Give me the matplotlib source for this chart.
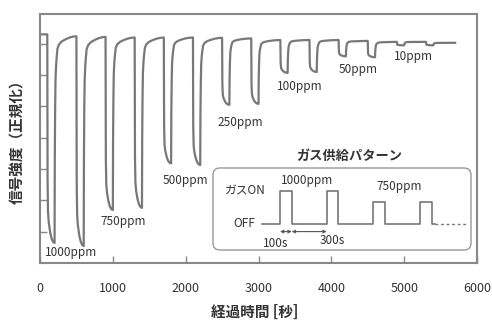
import matplotlib
matplotlib.use('Agg')
import matplotlib.pyplot as plt
from matplotlib.patches import FancyBboxPatch

plt.rcParams['font.family'] = ['Noto Sans CJK JP', 'DejaVu Sans']

# gas pulses: ON at these times for 100 s, then 300 s off
pulse_on = [100, 500, 900, 1300, 1700, 2100, 2500, 2900, 3300, 3700, 4100, 4500, 4900, 5300]
ppm = [1000, 1000, 750, 750, 500, 500, 250, 250, 100, 100, 50, 50, 10, 10]
# signal level just before each pulse (last one = end of run)
top_level = [0.730, 0.724, 0.722, 0.720, 0.720, 0.720, 0.719, 0.717,
             0.712, 0.712, 0.712, 0.709, 0.706, 0.706, 0.703]
# lowest signal reached in each pulse
bottom_level = [0.064, 0.054, 0.169, 0.176, 0.318, 0.313, 0.505, 0.508,
                0.607, 0.610, 0.660, 0.657, 0.695, 0.695]

# response shape (fraction of the dip vs time since ON)
drop_dt = [0, 4, 10, 20, 40, 60, 80, 100]
drop_frac = [0.0, 0.70, 0.85, 0.90, 0.95, 0.98, 0.995, 1.0]
rise_dt = [103, 108, 113, 120, 127, 140, 160, 200, 250, 300, 350, 400]
rise_frac = [0.60, 0.35, 0.21, 0.15, 0.11, 0.06, 0.04, 0.025, 0.015, 0.007, 0.002, 0.0]

labels = ['1000ppm', '750ppm', '500ppm', '250ppm', '100ppm', '50ppm', '10ppm']
label_xy = [(433, 0.035), (1140, 0.131), (1992, 0.262), (2747, 0.447),
            (3571, 0.562), (4368, 0.617), (5130, 0.658)]

# inset: gas supply pattern
inset_on = [0, 400, 800, 1200]
inset_level = [1.0, 1.0, 0.676, 0.676]

t = [0]
y = [top_level[0]]
for k, t0 in enumerate(pulse_on):
    top, bot, nxt = top_level[k], bottom_level[k], top_level[k + 1]
    for dt, f in zip(drop_dt, drop_frac):
        t.append(t0 + dt)
        y.append(top - (top - bot) * f)
    for dt, f in zip(rise_dt, rise_frac):
        t.append(t0 + dt)
        y.append(nxt - (nxt - bot) * f)

fig = plt.figure(figsize=(4.92, 3.23), dpi=100)
ax = fig.add_axes([40 / 492, 60 / 323, 437 / 492, 249 / 323])
ax.plot(t, y, color='#787878', lw=1.6)
ax.set_xlim(0, 6000)
ax.set_ylim(0, 0.795)
ax.set_xticks(range(0, 6001, 1000))
ax.set_yticks([0.1, 0.2, 0.3, 0.4, 0.5, 0.6, 0.7])
ax.set_yticklabels([])
ax.tick_params(direction='in', length=5, width=1, color='#888888',
               labelcolor='#333333', labelsize=9)
ax.tick_params(axis='x', pad=14)
for s in ax.spines.values():
    s.set_color('#888888')
    s.set_linewidth(1.5)

for lab, (lx, ly) in zip(labels, label_xy):
    ax.text(lx, ly, lab, ha='center', va='center', fontsize=8.5, color='#333333')

fig.text(255 / 492, 1 - 312 / 323, '経過時間 [秒]', ha='center', va='center',
         fontsize=10.5, fontweight='bold', color='#333333')
fig.text(17.5 / 492, 1 - 138 / 323, '信号強度（正規化）', ha='center', va='center',
         rotation=90, fontsize=10.5, fontweight='bold', color='#333333')

# inset box
box = FancyBboxPatch((2.13, 0.73), 2.58, 0.82, boxstyle='round,pad=0,rounding_size=0.07',
                     transform=fig.dpi_scale_trans, facecolor='white',
                     edgecolor='#999999', lw=1.0, zorder=1)
fig.add_artist(box)

ins = fig.add_axes([213 / 492, 73 / 323, 258 / 492, 82 / 323])
ins.set_zorder(2)
ins.patch.set_alpha(0)
ins.set_xlim(-574, 1636)
ins.set_ylim(-0.788, 1.697)
ins.axis('off')
px = [-150]
py = [0]
for t0, lv in zip(inset_on, inset_level):
    px += [t0, t0, t0 + 100, t0 + 100]
    py += [0, lv, lv, 0]
px.append(1330)
py.append(0)
ins.plot(px, py, color='#777777', lw=1.2)
ins.plot([1330, 1600], [0, 0], color='#777777', lw=1.0, ls=(0, (2, 2)))

arr = dict(arrowstyle='<->', color='#555555', lw=0.8, shrinkA=0, shrinkB=0, mutation_scale=5)
ins.annotate('', xy=(0, -0.23), xytext=(100, -0.23), arrowprops=arr)
ins.annotate('', xy=(100, -0.23), xytext=(400, -0.23), arrowprops=arr)

ins.text(-34, -0.585, '100s', ha='center', va='center', fontsize=8.5, color='#333333')
ins.text(445, -0.515, '300s', ha='center', va='center', fontsize=8.5, color='#333333')
ins.text(235, 1.31, '1000ppm', ha='center', va='center', fontsize=8.5, color='#333333')
ins.text(1019, 1.13, '750ppm', ha='center', va='center', fontsize=8.5, color='#333333')
ins.text(-295, 1.015, 'ガスON', ha='center', va='center', fontsize=8.5, color='#333333')
ins.text(-308, 0, 'OFF', ha='center', va='center', fontsize=8.5, color='#333333')
ins.text(0.527, 1.146, 'ガス供給パターン', transform=ins.transAxes, ha='center', va='center',
         fontsize=9.5, fontweight='bold', color='#333333', clip_on=False)

fig.savefig('out.png', dpi=100)
